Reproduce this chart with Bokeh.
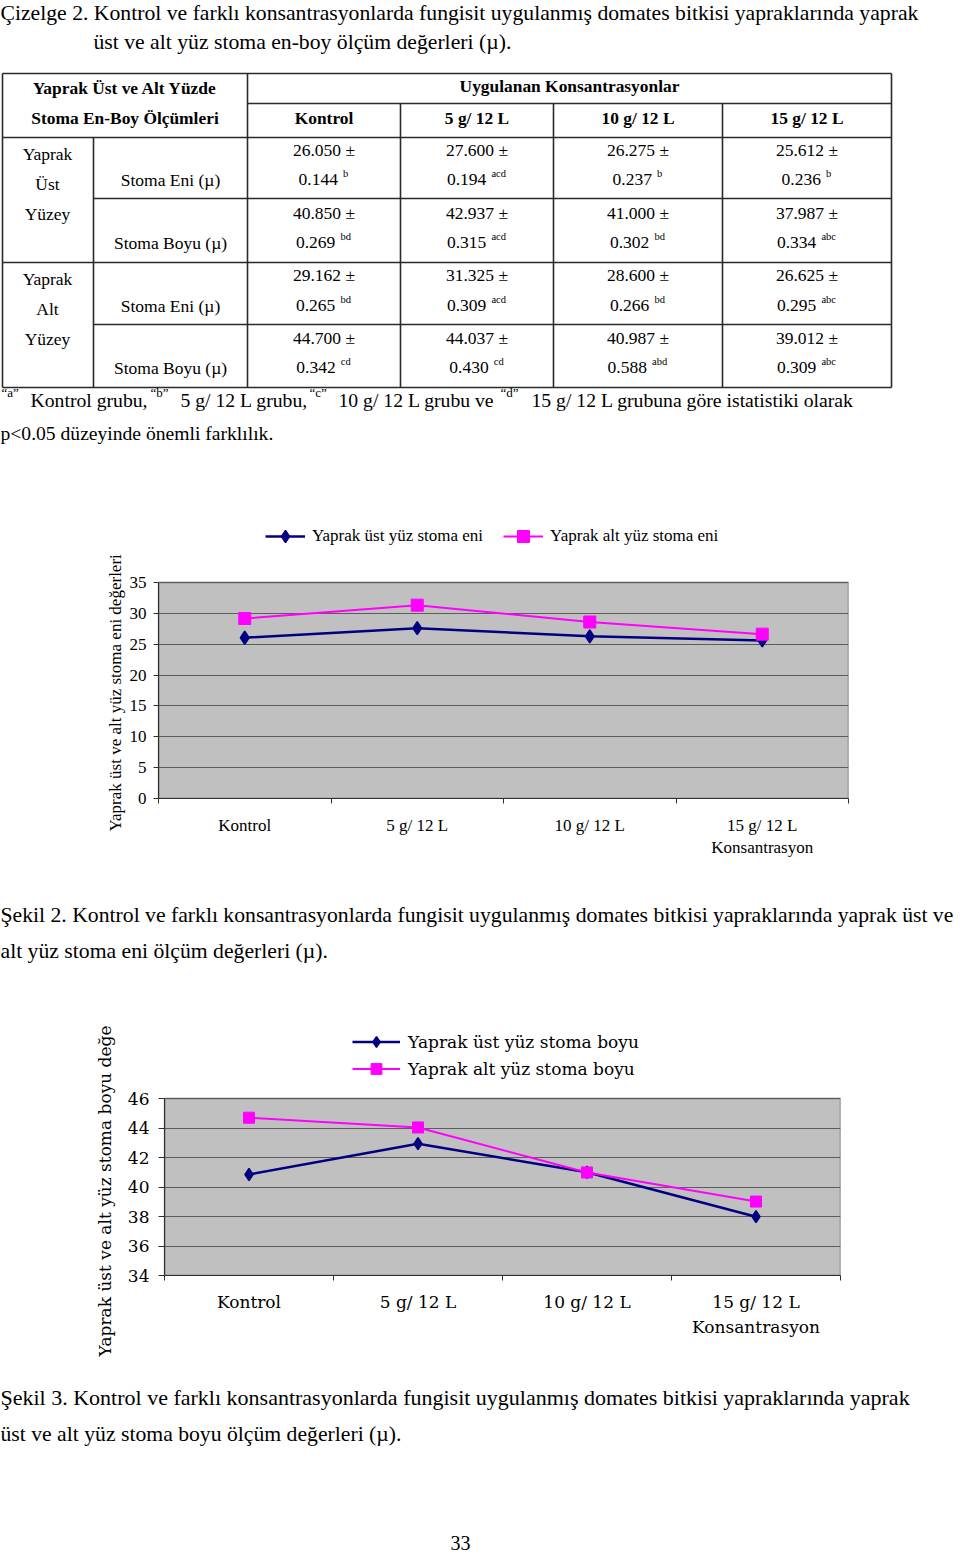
from bokeh.plotting import figure
from bokeh.models import Range1d, FixedTicker, LinearAxis, Legend, LegendItem, Title
from bokeh.core.properties import value
from bokeh.embed import file_html
from bokeh.resources import INLINE

# ---------------- data ----------------
concentrations = ["Kontrol", "5 g/ 12 L", "10 g/ 12 L", "15 g/ 12 L"]

ust_eni = [26.050, 27.600, 26.275, 25.612]
ust_eni_se = [0.144, 0.194, 0.237, 0.236]
ust_eni_sig = ["b", "acd", "b", "b"]

ust_boyu = [40.850, 42.937, 41.000, 37.987]
ust_boyu_se = [0.269, 0.315, 0.302, 0.334]
ust_boyu_sig = ["bd", "acd", "bd", "abc"]

alt_eni = [29.162, 31.325, 28.600, 26.625]
alt_eni_se = [0.265, 0.309, 0.266, 0.295]
alt_eni_sig = ["bd", "acd", "bd", "abc"]

alt_boyu = [44.700, 44.037, 40.987, 39.012]
alt_boyu_se = [0.342, 0.430, 0.588, 0.309]
alt_boyu_sig = ["cd", "cd", "abd", "abc"]

eni_ticks = [0, 5, 10, 15, 20, 25, 30, 35]
boyu_ticks = [34, 36, 38, 40, 42, 44, 46]

row_labels = ["Stoma Eni (µ)", "Stoma Boyu (µ)", "Stoma Eni (µ)", "Stoma Boyu (µ)"]
surface_labels = [["Yaprak", "Üst", "Yüzey"], ["Yaprak", "Alt", "Yüzey"]]

title_lines = [
    "Çizelge 2. Kontrol ve farklı konsantrasyonlarda fungisit uygulanmış domates bitkisi yapraklarında yaprak",
    "üst ve alt yüz stoma en-boy ölçüm değerleri (µ).",
]
caption2 = [
    "Şekil 2. Kontrol ve farklı konsantrasyonlarda fungisit uygulanmış domates bitkisi yapraklarında yaprak üst ve",
    "alt yüz stoma eni ölçüm değerleri (µ).",
]
caption3 = [
    "Şekil 3. Kontrol ve farklı konsantrasyonlarda fungisit uygulanmış domates bitkisi yapraklarında yaprak",
    "üst ve alt yüz stoma boyu ölçüm değerleri (µ).",
]

# ---------------- layout helpers ----------------
W = 960
SERIF = "Liberation Serif"


def page_fig(top, bottom):
    p = figure(width=W, height=bottom - top, x_range=Range1d(0, W),
               y_range=Range1d(bottom, top), x_axis_type=None, y_axis_type=None,
               output_backend="svg", toolbar_location=None, min_border=0)
    p.outline_line_color = None
    p.background_fill_color = "white"
    p.border_fill_color = "white"
    return p


def put(p, x, y, s, size=20, align="left", bold=False, font=SERIF):
    p.text(x=[x], y=[y], text=[s], text_font=value(font),
           text_font_size=f"{size}px", text_align=align, text_baseline="middle",
           text_color="black", text_font_style="bold" if bold else "normal")


# ---------------- figure A: title + table + footnote ----------------
pa = page_fig(0, 490)
put(pa, 0, 12, title_lines[0], 21.7)
put(pa, 93, 41, title_lines[1], 21.7)

# table grid
xl, xc1, xc2 = 2, 93, 247
vcols = [247, 400, 553, 722, 891]
yt, yh, yb = 73, 103, 137
rows = [137, 198, 262, 324, 387]
segs = [
    (xl, yt, vcols[-1], yt), (xl, rows[-1], vcols[-1], rows[-1]),
    (xl, yt, xl, rows[-1]), (vcols[-1], yt, vcols[-1], rows[-1]),
    (xc2, yt, xc2, rows[-1]), (xc2, yh, vcols[-1], yh),
    (xl, yb, vcols[-1], yb), (xc1, yb, xc1, rows[-1]),
    (xc1, rows[1], vcols[-1], rows[1]), (xl, rows[2], vcols[-1], rows[2]),
    (xc1, rows[3], vcols[-1], rows[3]),
]
for xv in vcols[1:-1]:
    segs.append((xv, yh, xv, rows[-1]))
pa.segment(x0=[s[0] for s in segs], y0=[s[1] for s in segs],
           x1=[s[2] for s in segs], y1=[s[3] for s in segs],
           line_color="#2a2a2a", line_width=1.6)

# header
put(pa, 124.5, 87, "Yaprak Üst ve Alt Yüzde", 17.4, "center", True)
put(pa, 124.5, 117, "Stoma En-Boy Ölçümleri", 17.4, "center", True)
put(pa, (vcols[0] + vcols[-1]) / 2, 85, "Uygulanan Konsantrasyonlar", 17.4, "center", True)
centers = [(vcols[i] + vcols[i + 1]) / 2 for i in range(4)]
for cx, c in zip(centers, concentrations):
    put(pa, cx, 117, c, 17.4, "center", True)

# left labels
surf_y = [[153, 183, 213], [278, 308, 338]]
for labs, ys in zip(surface_labels, surf_y):
    for lab, yy in zip(labs, ys):
        put(pa, 47, yy, lab, 17.5, "center")
line2_y = [179, 242, 305, 367]
for lab, yy in zip(row_labels, line2_y):
    put(pa, 170, yy, lab, 17.5, "center")

# values
means = [ust_eni, ust_boyu, alt_eni, alt_boyu]
ses = [ust_eni_se, ust_boyu_se, alt_eni_se, alt_boyu_se]
sigs = [ust_eni_sig, ust_boyu_sig, alt_eni_sig, alt_boyu_sig]
line1_y = [149, 212, 274, 337]
sup_w = {"a": 4.7, "b": 5.3, "c": 4.7, "d": 5.3}
for r in range(4):
    for c in range(4):
        cx = centers[c]
        put(pa, cx, line1_y[r], f"{means[r][c]:.3f} ±", 17.5, "center")
        num = f"{ses[r][c]:.3f}"
        num_w = 39.5
        sw = sum(sup_w[ch] for ch in sigs[r][c])
        left = cx - (num_w + 6 + sw) / 2
        put(pa, left, line2_y[r], num, 17.5, "left")
        put(pa, left + num_w + 5, line2_y[r] - 6, sigs[r][c], 10.5, "left")

# footnote
foot = [(1, "“a”", True), (30, "Kontrol grubu,", False), (150, "“b”", True),
        (180, "5 g/ 12 L grubu,", False), (309, "“c”", True),
        (338, "10 g/ 12 L grubu ve", False), (500, "“d”", True),
        (531, "15 g/ 12 L grubuna göre istatistiki  olarak", False)]
for fx, ft, sup in foot:
    if sup:
        put(pa, fx, 392, ft, 13)
    else:
        put(pa, fx, 399, ft, 19.7)
put(pa, 0, 433, "p<0.05 düzeyinde önemli farklılık.", 19.6)


# ---------------- chart helper ----------------
def make_chart(top, bottom, frame, plot_top, ylim, yticks, ylabel, font, fs, s1, s2,
               labels, leg, tick_out, tick_standoff, cat_standoff, kons_standoff,
               dsize, ssize, ylab_offset, ylab_standoff):
    fl, fr, ftop, fb = frame
    n = len(concentrations)
    xpos = [i + 1 for i in range(n)]
    bounds = [i + 0.5 for i in range(n + 1)]
    # frame extends above the grey plot area so that the legend fits inside it
    per_px = (ylim[1] - ylim[0]) / (fb - plot_top)
    y_end = ylim[1] + (plot_top - ftop) * per_px
    p = figure(width=W, height=bottom - top, x_range=Range1d(0.5, n + 0.5),
               y_range=Range1d(ylim[0], y_end), output_backend="svg",
               toolbar_location=None,
               min_border_left=fl, min_border_right=W - fr,
               min_border_top=ftop - top, min_border_bottom=bottom - fb)
    p.title.visible = False
    p.background_fill_color = "white"
    p.border_fill_color = "white"
    p.outline_line_color = None

    # grey plot area
    p.quad(left=[bounds[0]], right=[bounds[-1]], bottom=[ylim[0]], top=[ylim[1]],
           fill_color="#C0C0C0", line_color="#707070", line_width=1.5, level="image")

    p.xgrid.visible = False
    p.ygrid.ticker = FixedTicker(ticks=yticks)
    p.ygrid.grid_line_color = "#5c5c5c"
    p.ygrid.grid_line_width = 1.2

    xa = p.xaxis[0]
    xa.ticker = FixedTicker(ticks=xpos, minor_ticks=bounds)
    xa.major_label_overrides = {x: c for x, c in zip(xpos, concentrations)}
    xa.major_tick_out = 0
    xa.major_tick_in = 0
    xa.minor_tick_out = 5
    xa.minor_tick_in = 0
    xa.minor_tick_line_color = "#303030"
    xa.axis_line_color = "#303030"
    xa.axis_line_width = 1.2
    xa.major_label_standoff = cat_standoff
    xa.major_label_text_font = font
    xa.major_label_text_font_size = f"{fs}px"
    xa.major_label_text_color = "black"

    ax2 = LinearAxis(ticker=FixedTicker(ticks=[xpos[-1]]),
                     major_label_overrides={xpos[-1]: "Konsantrasyon"},
                     axis_line_color=None, major_tick_line_color=None,
                     minor_tick_line_color=None, major_tick_out=0, major_tick_in=0,
                     major_label_standoff=kons_standoff,
                     major_label_text_font=font, major_label_text_font_size=f"{fs}px",
                     major_label_text_color="black")
    p.add_layout(ax2, "below")

    ya = p.yaxis[0]
    ya.ticker = FixedTicker(ticks=yticks)
    ya.bounds = (ylim[0], ylim[1])
    ya.major_tick_out = tick_out
    ya.major_tick_in = 0
    ya.minor_tick_out = 0
    ya.minor_tick_in = 0
    ya.major_tick_line_color = "#303030"
    ya.axis_line_color = "#303030"
    ya.axis_line_width = 1.2
    ya.major_label_standoff = tick_standoff
    ya.major_label_text_font = font
    ya.major_label_text_font_size = f"{fs}px"
    ya.major_label_text_color = "black"

    # y-axis title, anchored at its lower end below the frame bottom
    ytitle = Title(text=ylabel, align="left", offset=ylab_offset,
                   standoff=ylab_standoff, text_font=font,
                   text_font_size=f"{fs}px", text_font_style="normal",
                   text_color="black")
    p.add_layout(ytitle, "left")

    r1 = p.line(xpos, s1, line_color="#000080", line_width=2.5)
    m1 = p.scatter(xpos, s1, marker="diamond", size=dsize, line_width=1.5,
                   fill_color="#000080", line_color="#000080")
    r2 = p.line(xpos, s2, line_color="#FF00FF", line_width=2)
    m2 = p.scatter(xpos, s2, marker="square", size=ssize,
                   fill_color="#FF00FF", line_color="#FF00FF")

    legend = Legend(items=[LegendItem(label=labels[0], renderers=[r1, m1]),
                           LegendItem(label=labels[1], renderers=[r2, m2])],
                    location=leg["loc"], orientation=leg["orient"],
                    glyph_width=leg["gw"], glyph_height=leg["gh"],
                    label_height=leg["gh"], label_standoff=leg["standoff"],
                    spacing=leg["spacing"], padding=0, margin=0,
                    border_line_alpha=0, background_fill_alpha=0,
                    label_text_font=font, label_text_font_size=f"{fs}px",
                    label_text_color="black")
    p.add_layout(legend)
    return p


# ---------------- figure B: chart 1 ----------------
pb = make_chart(
    490, 875, (158, 848, 515, 798), 582, (0, 35), eni_ticks,
    "Yaprak üst ve alt yüz stoma eni değerleri", SERIF, 17,
    ust_eni, alt_eni, ["Yaprak üst yüz stoma eni", "Yaprak alt yüz stoma eni"],
    {"loc": (107, 247), "orient": "horizontal", "gw": 40, "gh": 30,
     "standoff": 7, "spacing": 20},
    5, 7, 12, 0, 13, 12, -33, 3)

# ---------------- figure C: caption 2 ----------------
pc = page_fig(875, 1005)
put(pc, 0, 914, caption2[0], 21.7)
put(pc, 0, 950, caption2[1], 21.7)

# ---------------- figure D: chart 2 ----------------
pd_ = make_chart(
    1005, 1370, (164, 840, 1025, 1275), 1098, (34, 46), boyu_ticks,
    "Yaprak üst ve alt yüz stoma boyu değe", "DejaVu Serif", 17,
    ust_boyu, alt_boyu, ["Yaprak üst yüz stoma boyu", "Yaprak alt yüz stoma boyu"],
    {"loc": (188, 193), "orient": "vertical", "gw": 48, "gh": 27,
     "standoff": 8, "spacing": 0},
    6, 9, 11, 2, 12, 11, -81, 19)

# ---------------- figure E: caption 3 + page number ----------------
pe = page_fig(1370, 1554)
put(pe, 0, 1397, caption3[0], 22)
put(pe, 0, 1433, caption3[1], 21.7)
put(pe, 460, 1542, "33", 20, "center")

open("out.html", "w").write(file_html([pa, pb, pc, pd_, pe], INLINE))
